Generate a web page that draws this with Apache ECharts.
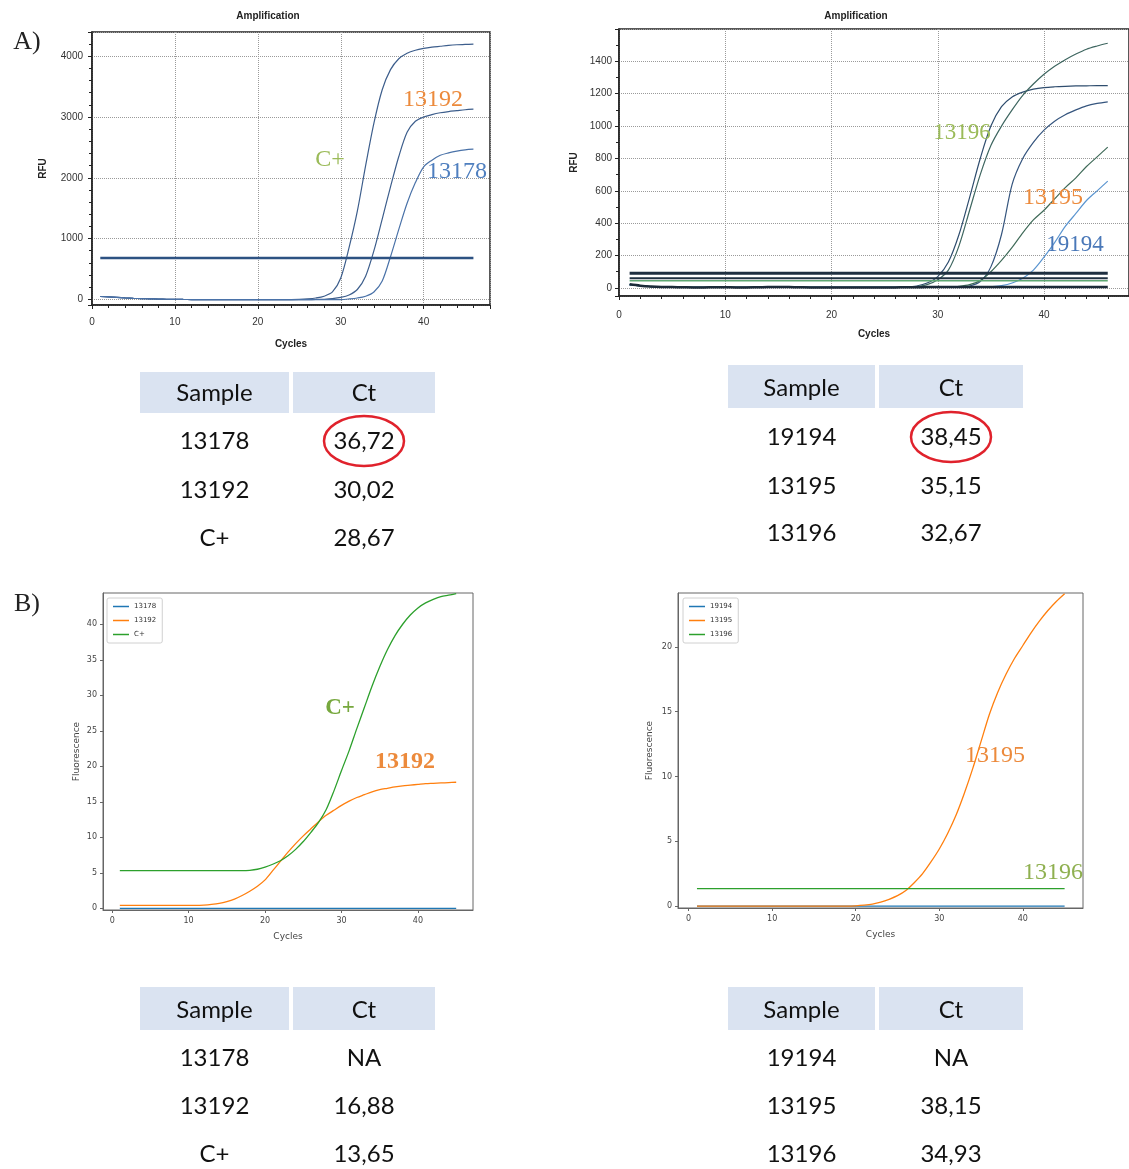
<!DOCTYPE html>
<html>
<head>
<meta charset="utf-8">
<script src="https://cdn.jsdelivr.net/npm/echarts@6/dist/echarts.min.js"></script>
<style>
  html, body { margin: 0; padding: 0; background: #fff; }
  #main { width: 1129px; height: 1169px; }
</style>
</head>
<body>
<div id="main"></div>
<script>
  // cycles on the x axis
  var cyclesTop = [];
  for (var i = 1; i <= 46; i++) cyclesTop.push(i);
  var cyclesBottom = cyclesTop.slice(0, 45);

  // A) left - RFU per cycle
  var tlCPlus = [45,38,30,22,15,10,6,3,0,-2,-4,-5,-6,-6,-7,-7,-7,-8,-8,-8,-8,-7,-7,-6,-3,5,20,50,120,350,850,1450,2200,2900,3450,3780,3960,4050,4100,4130,4150,4165,4180,4190,4195,4200];
  var tl13192 = [45,38,30,22,15,10,6,3,0,-2,-4,-5,-6,-6,-7,-7,-7,-8,-8,-8,-8,-8,-8,-8,-7,-6,-4,0,10,30,70,160,380,800,1320,1850,2350,2750,2930,3000,3040,3070,3090,3105,3120,3130];
  var tl13178 = [45,38,30,22,15,10,6,3,0,-2,-4,-5,-6,-6,-7,-7,-7,-8,-8,-8,-8,-8,-8,-8,-8,-8,-8,-7,-6,-5,5,20,50,120,300,700,1150,1580,1920,2180,2290,2370,2410,2440,2460,2470];
  var tlThreshold = 680;

  // A) right - RFU per cycle
  var trBase = [22,14,9,6,5,4,3,3,4,4,3,3,4,5,6,5,4,3,3,2,2,2,3,3,3,3,4,4,5,5,5,5,5,5,5,5,5,5,5,5,5,5,5,5,5,5];
  var trPlateau = [20,12,8,5,4,3,3,3,3,3,3,3,3,4,5,4,3,3,3,3,3,3,3,3,3,3,5,12,30,70,160,330,560,800,1000,1120,1180,1210,1228,1238,1243,1246,1248,1249,1250,1250];
  var trGrowing = [20,12,8,5,4,3,3,3,3,3,3,3,3,4,5,4,3,3,3,3,3,3,3,3,3,3,4,8,20,50,110,260,480,700,880,1000,1100,1190,1260,1320,1370,1410,1445,1475,1495,1512];
  var trCurve3 = [20,12,8,5,4,3,3,3,3,3,3,3,3,4,5,4,3,3,3,3,3,3,3,3,3,3,3,3,3,3,3,5,12,40,130,330,640,800,900,975,1030,1070,1100,1125,1140,1150];
  var trCurve4 = [20,12,8,5,4,3,3,3,3,3,3,3,3,4,5,4,3,3,3,3,3,3,3,3,3,3,3,3,3,4,6,10,20,45,100,170,250,340,420,480,550,620,680,750,810,870];
  var trCurve5 = [20,12,8,5,4,3,3,3,3,3,3,3,3,4,5,4,3,3,3,3,3,3,3,3,3,3,3,3,3,3,3,3,3,5,8,14,30,60,110,190,280,380,460,540,600,660];
  var trThresholds = [90, 60, 45];

  // B) left - fluorescence per cycle
  var bl13178 = [0,0,0,0,0,0,0,0,0,0,0,0,0,0,0,0,0,0,0,0,0,0,0,0,0,0,0,0,0,0,0,0,0,0,0,0,0,0,0,0,0,0,0,0,0];
  var bl13192 = [0.4,0.4,0.4,0.4,0.4,0.4,0.4,0.4,0.4,0.4,0.4,0.45,0.55,0.7,0.95,1.3,1.8,2.4,3.1,4.0,5.3,6.6,7.9,9.1,10.2,11.2,12.2,13.1,13.8,14.5,15.1,15.6,16.0,16.4,16.7,16.9,17.1,17.25,17.35,17.45,17.55,17.6,17.65,17.7,17.75];
  var blCPlus = [5.3,5.3,5.3,5.3,5.3,5.3,5.3,5.3,5.3,5.3,5.3,5.3,5.3,5.3,5.3,5.3,5.3,5.35,5.5,5.8,6.2,6.7,7.4,8.3,9.4,10.7,12.1,13.9,16.5,19.4,22.2,25.3,28.3,31.3,34.0,36.4,38.4,40.0,41.3,42.3,43.0,43.5,43.9,44.1,44.3];

  // B) right - fluorescence per cycle
  var br19194 = [0,0,0,0,0,0,0,0,0,0,0,0,0,0,0,0,0,0,0,0,0,0,0,0,0,0,0,0,0,0,0,0,0,0,0,0,0,0,0,0,0,0,0,0,0];
  var br13195 = [0,0,0,0,0,0,0,0,0,0,0,0,0,0,0,0,0,0,0,0.02,0.07,0.15,0.3,0.52,0.8,1.2,1.8,2.5,3.4,4.4,5.6,7.0,8.7,10.6,12.7,14.8,16.5,17.9,19.1,20.1,21.1,22.0,22.8,23.5,24.1];
  var br13196 = [1.35,1.35,1.35,1.35,1.35,1.35,1.35,1.35,1.35,1.35,1.35,1.35,1.35,1.35,1.35,1.35,1.35,1.35,1.35,1.35,1.35,1.35,1.35,1.35,1.35,1.35,1.35,1.35,1.35,1.35,1.35,1.35,1.35,1.35,1.35,1.35,1.35,1.35,1.35,1.35,1.35,1.35,1.35,1.35,1.35];

  // Ct tables
  var tableHeader = ['Sample', 'Ct'];
  var tblA1Samples = ['13178', '13192', 'C+'];
  var tblA1Ct = ['36,72', '30,02', '28,67'];
  var tblA2Samples = ['19194', '13195', '13196'];
  var tblA2Ct = ['38,45', '35,15', '32,67'];
  var tblB1Samples = ['13178', '13192', 'C+'];
  var tblB1Ct = ['NA', '16,88', '13,65'];
  var tblB2Samples = ['19194', '13195', '13196'];
  var tblB2Ct = ['NA', '38,15', '34,93'];

  var chart = echarts.init(document.getElementById('main'));

  function pairs(xs, ys) {
    return ys.map(function (v, i) { return [xs[i], v]; });
  }

  function line(name, idx, xs, ys, color, width, z) {
    return {
      name: name,
      type: 'line',
      xAxisIndex: idx,
      yAxisIndex: idx,
      data: pairs(xs, ys),
      symbol: 'none',
      showSymbol: false,
      smooth: 0.3,
      z: z || 2,
      lineStyle: { color: color, width: width },
      itemStyle: { color: color }
    };
  }

  function flat(name, idx, xs, value, color, width) {
    return {
      name: name,
      type: 'line',
      xAxisIndex: idx,
      yAxisIndex: idx,
      data: [[xs[0], value], [xs[xs.length - 1], value]],
      symbol: 'none',
      showSymbol: false,
      z: 3,
      lineStyle: { color: color, width: width },
      itemStyle: { color: color }
    };
  }

  function plain(v) { return String(v); }

  var topLabel = { fontSize: 10, color: '#333', fontFamily: 'Liberation Sans', formatter: plain };
  var topName = { fontSize: 10, fontWeight: 'bold', color: '#222', fontFamily: 'Liberation Sans' };
  var gridDots = { show: true, lineStyle: { type: 'dotted', color: '#9a9a9a', width: 1 } };
  var botLabel = { fontSize: 8, color: '#444', fontFamily: 'DejaVu Sans', formatter: plain };
  var botName = { fontSize: 9, color: '#444', fontFamily: 'DejaVu Sans' };

  var xAxis = [
    { gridIndex: 0, type: 'value', min: 0, max: 48, name: 'Cycles', nameLocation: 'middle', nameGap: 34, nameTextStyle: topName,
      axisLine: { onZero: false, lineStyle: { color: '#222', width: 1.5 } }, axisTick: { length: 4, lineStyle: { color: '#222' } },
      minorTick: { show: true, splitNumber: 5, length: 3, lineStyle: { color: '#222' } },
      axisLabel: Object.assign({ margin: 12, showMaxLabel: false }, topLabel), splitLine: gridDots },
    { gridIndex: 1, type: 'value', min: 0, max: 48, name: 'Cycles', nameLocation: 'middle', nameGap: 33, nameTextStyle: topName,
      axisLine: { onZero: false, lineStyle: { color: '#222', width: 1.5 } }, axisTick: { length: 4, lineStyle: { color: '#222' } },
      minorTick: { show: true, splitNumber: 5, length: 3, lineStyle: { color: '#222' } },
      axisLabel: Object.assign({ margin: 14, showMaxLabel: false }, topLabel), splitLine: gridDots },
    { gridIndex: 2, type: 'value', min: -1.2, max: 47.2, name: 'Cycles', nameLocation: 'middle', nameGap: 22, nameTextStyle: botName,
      axisLine: { onZero: false, lineStyle: { color: '#666' } }, axisTick: { length: 3, lineStyle: { color: '#666' } },
      axisLabel: Object.assign({ margin: 7, showMinLabel: false, showMaxLabel: false }, botLabel), splitLine: { show: false } },
    { gridIndex: 3, type: 'value', min: -1.27, max: 47.2, name: 'Cycles', nameLocation: 'middle', nameGap: 22, nameTextStyle: botName,
      axisLine: { onZero: false, lineStyle: { color: '#666' } }, axisTick: { length: 3, lineStyle: { color: '#666' } },
      axisLabel: Object.assign({ margin: 7, showMinLabel: false, showMaxLabel: false }, botLabel), splitLine: { show: false } }
  ];

  var yAxis = [
    { gridIndex: 0, type: 'value', min: -95, max: 4400, name: 'RFU', nameLocation: 'middle', nameGap: 44, nameTextStyle: topName,
      axisLine: { onZero: false, lineStyle: { color: '#222', width: 1.5 } }, axisTick: { length: 4, lineStyle: { color: '#222' } },
      minorTick: { show: true, splitNumber: 5, length: 3, lineStyle: { color: '#222' } },
      axisLabel: Object.assign({ margin: 9, showMinLabel: false, showMaxLabel: false }, topLabel), splitLine: gridDots },
    { gridIndex: 1, type: 'value', min: -50, max: 1600, splitNumber: 8, name: 'RFU', nameLocation: 'middle', nameGap: 40, nameTextStyle: topName,
      axisLine: { onZero: false, lineStyle: { color: '#222', width: 1.5 } }, axisTick: { length: 4, lineStyle: { color: '#222' } },
      minorTick: { show: true, splitNumber: 2, length: 3, lineStyle: { color: '#222' } },
      axisLabel: Object.assign({ margin: 7, showMinLabel: false, showMaxLabel: false }, topLabel), splitLine: gridDots },
    { gridIndex: 2, type: 'value', min: -0.24, max: 44.4, splitNumber: 9, name: 'Fluorescence', nameLocation: 'middle', nameGap: 22, nameTextStyle: botName,
      axisLine: { onZero: false, lineStyle: { color: '#666' } }, axisTick: { length: 3, lineStyle: { color: '#666' } },
      axisLabel: Object.assign({ margin: 6, showMinLabel: false, showMaxLabel: false }, botLabel), splitLine: { show: false } },
    { gridIndex: 3, type: 'value', min: -0.15, max: 24.15, splitNumber: 5, name: 'Fluorescence', nameLocation: 'middle', nameGap: 24, nameTextStyle: botName,
      axisLine: { onZero: false, lineStyle: { color: '#666' } }, axisTick: { length: 3, lineStyle: { color: '#666' } },
      axisLabel: Object.assign({ margin: 6, showMinLabel: false, showMaxLabel: false }, botLabel), splitLine: { show: false } }
  ];

  var curveTL = '#3d5e8c';
  var series = [
    line('tl-C+', 0, cyclesTop, tlCPlus, curveTL, 1.2),
    line('tl-13192', 0, cyclesTop, tl13192, curveTL, 1.2),
    line('tl-13178', 0, cyclesTop, tl13178, '#4a72a8', 1.2),
    flat('tl-threshold', 0, cyclesTop, tlThreshold, '#2d5282', 2.5),

    flat('tr-threshold-1', 1, cyclesTop, trThresholds[0], '#1e2f40', 3),
    flat('tr-threshold-2', 1, cyclesTop, trThresholds[1], '#1e2f40', 2),
    flat('tr-threshold-3', 1, cyclesTop, trThresholds[2], '#5ea873', 1.5),
    line('tr-base', 1, cyclesTop, trBase, '#1b2a38', 2.5, 3),
    line('tr-plateau', 1, cyclesTop, trPlateau, '#2f4d6e', 1.2),
    line('tr-growing', 1, cyclesTop, trGrowing, '#3e6660', 1.2),
    line('tr-curve3', 1, cyclesTop, trCurve3, '#35557e', 1.2),
    line('tr-curve4', 1, cyclesTop, trCurve4, '#3f6a58', 1.2),
    line('tr-curve5', 1, cyclesTop, trCurve5, '#5b95d0', 1.2),

    line('13178', 2, cyclesBottom, bl13178, '#1f77b4', 1.3),
    line('13192', 2, cyclesBottom, bl13192, '#ff7f0e', 1.3),
    line('C+', 2, cyclesBottom, blCPlus, '#2ca02c', 1.3),

    line('19194', 3, cyclesBottom, br19194, '#1f77b4', 1.3),
    line('13195', 3, cyclesBottom, br13195, '#ff7f0e', 1.3),
    line('13196', 3, cyclesBottom, br13196, '#2ca02c', 1.3)
  ];

  var legendBase = {
    orient: 'vertical', icon: 'rect', itemWidth: 16, itemHeight: 1.5, itemGap: 7,
    padding: [5, 6], borderColor: '#d0d0d0', borderWidth: 1, borderRadius: 2,
    textStyle: { fontSize: 7, color: '#333', fontFamily: 'DejaVu Sans' }
  };

  // free text: titles, panel letters, curve annotations
  var graphics = [];
  function addText(x, y, text, font, color) {
    graphics.push({ type: 'text', x: x, y: y, z: 100,
      style: { text: text, font: font, fill: color, align: 'center', verticalAlign: 'middle', textAlign: 'center', textVerticalAlign: 'middle' } });
  }
  addText(268, 16, 'Amplification', 'bold 10px "Liberation Sans"', '#222');
  addText(856, 16, 'Amplification', 'bold 10px "Liberation Sans"', '#222');
  addText(27, 42, 'A)', '26px "Liberation Serif"', '#222');
  addText(27, 604, 'B)', '26px "Liberation Serif"', '#222');

  addText(433, 100, '13192', '24px "Liberation Serif"', '#ec8a3c');
  addText(330, 160, 'C+', '24px "Liberation Serif"', '#9bbb59');
  addText(457, 172, '13178', '24px "Liberation Serif"', '#4f7fbf');
  addText(962, 133, '13196', '23px "Liberation Serif"', '#9bbb59');
  addText(1053, 198, '13195', '24px "Liberation Serif"', '#ec8a3c');
  addText(1075, 245, '19194', '23px "Liberation Serif"', '#4a78b8');
  addText(340, 708, 'C+', 'bold 23px "Liberation Serif"', '#77a83e');
  addText(405, 762, '13192', 'bold 24px "Liberation Serif"', '#ec8a3c');
  addText(995, 756, '13195', '24px "Liberation Serif"', '#ec8a3c');
  addText(1053, 873, '13196', '24px "Liberation Serif"', '#8fb050');

  // Ct tables
  var tableLayouts = [
    { samples: tblA1Samples, cts: tblA1Ct, cols: [[140, 289], [293, 435]], head: [372, 413], rows: [393, 441, 490, 538], ring: true },
    { samples: tblA2Samples, cts: tblA2Ct, cols: [[728, 875], [879, 1023]], head: [365, 408], rows: [388, 437, 486, 533], ring: true },
    { samples: tblB1Samples, cts: tblB1Ct, cols: [[140, 289], [293, 435]], head: [987, 1030], rows: [1010, 1058, 1106, 1154], ring: false },
    { samples: tblB2Samples, cts: tblB2Ct, cols: [[728, 875], [879, 1023]], head: [987, 1030], rows: [1010, 1058, 1106, 1154], ring: false }
  ];
  var tableFont = '24px Lato';
  tableLayouts.forEach(function (t) {
    t.cols.forEach(function (c, ci) {
      graphics.push({ type: 'rect', z: 90, shape: { x: c[0], y: t.head[0], width: c[1] - c[0], height: t.head[1] - t.head[0] },
        style: { fill: '#dae3f1' } });
      addText((c[0] + c[1]) / 2, t.rows[0], tableHeader[ci], tableFont, '#111');
    });
    var cx1 = (t.cols[0][0] + t.cols[0][1]) / 2;
    var cx2 = (t.cols[1][0] + t.cols[1][1]) / 2;
    t.samples.forEach(function (s, ri) {
      addText(cx1, t.rows[ri + 1], s, tableFont, '#111');
      addText(cx2, t.rows[ri + 1], t.cts[ri], tableFont, '#111');
    });
    if (t.ring) {
      graphics.push({ type: 'ellipse', z: 101, shape: { cx: cx2, cy: t.rows[1], rx: 40, ry: 25 },
        style: { fill: null, stroke: '#e0222c', lineWidth: 2.5 } });
    }
  });

  chart.setOption({
    animation: false,
    backgroundColor: '#fff',
    grid: [
      { left: 92, top: 32, width: 398, height: 273, show: true, borderColor: '#222', borderWidth: 1.5 },
      { left: 619, top: 29, width: 512, height: 267, show: true, borderColor: '#222', borderWidth: 1.5 },
      { left: 103, top: 593, width: 370, height: 317, show: true, borderColor: '#666', borderWidth: 1 },
      { left: 678, top: 593, width: 405, height: 315, show: true, borderColor: '#666', borderWidth: 1 }
    ],
    xAxis: xAxis,
    yAxis: yAxis,
    legend: [
      Object.assign({ data: ['13178', '13192', 'C+'], left: 107, top: 598 }, legendBase),
      Object.assign({ data: ['19194', '13195', '13196'], left: 683, top: 598 }, legendBase)
    ],
    graphic: graphics,
    series: series
  });
</script>
</body>
</html>
